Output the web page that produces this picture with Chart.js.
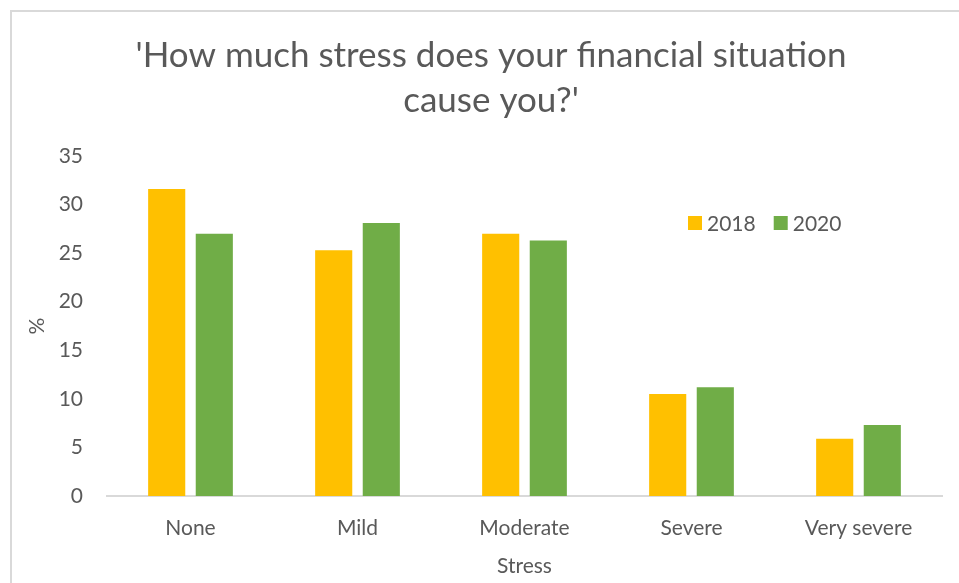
<!DOCTYPE html>
<html>
<head>
<meta charset="utf-8">
<script src="https://cdn.jsdelivr.net/npm/chart.js@4.4.0/dist/chart.umd.min.js"></script>
<style>
  body { margin: 0; background: #fff; overflow: hidden; }
  #wrap { position: relative; width: 959px; height: 583px; overflow: hidden; }
  #frame { position: absolute; left: 10px; top: 10px; width: 960px; height: 590px; border: 2px solid #d9d9d9; }
  #chart { position: absolute; left: 0; top: 0; }
</style>
</head>
<body>
<div id="wrap">
  <div id="frame"></div>
  <canvas id="chart" width="959" height="583"></canvas>
</div>
<script>
var categories = ['None', 'Mild', 'Moderate', 'Severe', 'Very severe'];
var seriesLabels = ['2018', '2020'];
var values2018 = [31.6, 25.3, 27.0, 10.5, 5.9];
var values2020 = [27.0, 28.1, 26.3, 11.2, 7.3];
var seriesColors = ['#FFC000', '#70AD47'];
var titleLines = ["'How much stress does your financial situation", "cause you?'"];

var textColor = '#595959';
var fontFamily = 'Lato, "Open Sans", sans-serif';

// title is drawn by hand so it can sit off-centre from the plot
var chartTitle = {
    id: 'chartTitle',
    afterDraw: function(chart) {
        var ctx = chart.ctx;
        ctx.save();
        ctx.font = '35px ' + fontFamily;
        ctx.fillStyle = textColor;
        ctx.textAlign = 'center';
        ctx.textBaseline = 'middle';
        titleLines.forEach(function(line, i) {
            ctx.fillText(line, 491, 56 + i * 45);
        });
        ctx.restore();
    }
};

// legend sits inside the plot, top right
var insideLegend = {
    id: 'insideLegend',
    afterDraw: function(chart) {
        var ctx = chart.ctx;
        var area = chart.chartArea;
        var x = area.right - 254;
        var y = area.top + 67;
        ctx.save();
        ctx.font = '21px ' + fontFamily;
        ctx.textBaseline = 'middle';
        chart.data.datasets.forEach(function(ds) {
            ctx.fillStyle = ds.backgroundColor;
            ctx.fillRect(x, y - 7, 14, 14);
            ctx.fillStyle = textColor;
            ctx.fillText(ds.label, x + 19, y + 1);
            x += 19 + ctx.measureText(ds.label).width + 18;
        });
        ctx.restore();
    }
};

new Chart(document.getElementById('chart').getContext('2d'), {
    type: 'bar',
    data: {
        labels: categories,
        datasets: [
            { label: seriesLabels[0], data: values2018, backgroundColor: seriesColors[0] },
            { label: seriesLabels[1], data: values2020, backgroundColor: seriesColors[1] }
        ]
    },
    options: {
        responsive: false,
        animation: false,
        categoryPercentage: 0.57,
        barPercentage: 0.78,
        layout: { padding: { left: 0, right: 17, top: 156, bottom: 0 } },
        plugins: {
            legend: { display: false },
            tooltip: { enabled: false },
            title: { display: false }
        },
        scales: {
            x: {
                grid: { display: false, drawTicks: false },
                border: { color: '#d9d9d9', width: 2 },
                ticks: { color: textColor, font: { family: fontFamily, size: 21 }, padding: 20 },
                title: {
                    display: true,
                    text: 'Stress',
                    color: textColor,
                    font: { family: fontFamily, size: 21 },
                    padding: { top: 0, bottom: 4 }
                },
                afterFit: function(scale) { scale.height = 87; }
            },
            y: {
                min: 0,
                max: 35,
                grid: { display: false, drawTicks: false },
                border: { display: false },
                ticks: { stepSize: 5, color: textColor, font: { family: fontFamily, size: 21 }, padding: 24 },
                title: {
                    display: true,
                    text: '%',
                    color: textColor,
                    font: { family: fontFamily, size: 21 },
                    padding: { top: 25, bottom: 0 }
                },
                afterFit: function(scale) { scale.width = 107; }
            }
        }
    },
    plugins: [chartTitle, insideLegend]
});
</script>
</body>
</html>
